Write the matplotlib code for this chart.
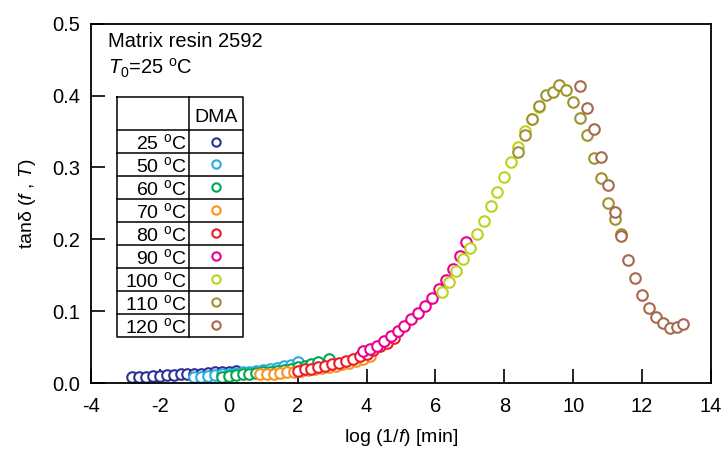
import numpy as np
import matplotlib
matplotlib.use("Agg")
import matplotlib.pyplot as plt

plt.rcParams['font.family'] = ['Liberation Sans', 'DejaVu Sans']
plt.rcParams['mathtext.fontset'] = 'custom'
plt.rcParams['mathtext.rm'] = 'Liberation Sans'
plt.rcParams['mathtext.it'] = 'Liberation Sans:italic'
plt.rcParams['axes.unicode_minus'] = False

# DMA tan delta, shifted to T0 = 25 C
temps = [25, 50, 60, 70, 80, 90, 100, 110, 120]
colors = ['#2E3192', '#29ABE2', '#00A651', '#F7931E', '#ED1C24',
          '#EC008C', '#BDD21E', '#A0912F', '#A8684E']

x_25 = [-2.8, -2.6, -2.4, -2.2, -2.0, -1.8, -1.6, -1.4, -1.2, -1.0, -0.8, -0.6, -0.4, -0.2, 0.0, 0.2]
y_25 = [0.008, 0.009, 0.009, 0.010, 0.010, 0.011, 0.011, 0.012, 0.012, 0.013, 0.013, 0.014, 0.015, 0.015, 0.016, 0.017]

x_50 = [-1.0, -0.8, -0.6, -0.4, -0.2, 0.0, 0.2, 0.4, 0.6, 0.8, 1.0, 1.2, 1.4, 1.6, 1.8, 2.0]
y_50 = [0.008, 0.009, 0.010, 0.011, 0.012, 0.013, 0.014, 0.015, 0.016, 0.017, 0.018, 0.019, 0.021, 0.023, 0.025, 0.029]

x_60 = [-0.2, 0.0, 0.2, 0.4, 0.6, 0.8, 1.0, 1.2, 1.4, 1.6, 1.8, 2.0, 2.2, 2.4, 2.6, 2.9]
y_60 = [0.009, 0.010, 0.011, 0.012, 0.013, 0.014, 0.015, 0.016, 0.017, 0.018, 0.020, 0.022, 0.024, 0.026, 0.029, 0.034]

x_70 = [0.9, 1.1, 1.3, 1.5, 1.7, 1.9, 2.1, 2.3, 2.5, 2.7, 2.9, 3.1, 3.3, 3.5, 3.7, 3.9, 4.1]
y_70 = [0.012, 0.013, 0.013, 0.014, 0.015, 0.016, 0.017, 0.018, 0.019, 0.021, 0.022, 0.024, 0.026, 0.028, 0.031, 0.034, 0.038]

x_80 = [2.0, 2.2, 2.4, 2.6, 2.8, 3.0, 3.2, 3.4, 3.6, 3.8, 4.0, 4.2, 4.4, 4.6, 4.8]
y_80 = [0.017, 0.019, 0.020, 0.022, 0.024, 0.026, 0.028, 0.031, 0.034, 0.037, 0.041, 0.046, 0.051, 0.056, 0.062]

x_90 = [3.9, 4.1, 4.3, 4.5, 4.7, 4.9, 5.1, 5.3, 5.5, 5.7, 5.9, 6.1, 6.3, 6.5, 6.7, 6.9]
y_90 = [0.044, 0.047, 0.052, 0.059, 0.065, 0.072, 0.080, 0.089, 0.097, 0.107, 0.118, 0.131, 0.144, 0.159, 0.177, 0.196]

x_100 = [6.2, 6.4, 6.6, 6.8, 7.0, 7.2, 7.4, 7.6, 7.8, 8.0, 8.2, 8.4, 8.6, 8.8, 9.0]
y_100 = [0.126, 0.141, 0.156, 0.172, 0.188, 0.207, 0.226, 0.246, 0.266, 0.286, 0.307, 0.329, 0.350, 0.368, 0.384]

x_110 = [8.4, 8.6, 8.8, 9.0, 9.2, 9.4, 9.6, 9.8, 10.0, 10.2, 10.4, 10.6, 10.8, 11.0, 11.2, 11.4]
y_110 = [0.322, 0.345, 0.368, 0.386, 0.401, 0.405, 0.414, 0.408, 0.391, 0.369, 0.345, 0.313, 0.285, 0.250, 0.228, 0.207]

x_120 = [10.2, 10.4, 10.6, 10.8, 11.0, 11.2, 11.4, 11.6, 11.8, 12.0, 12.2, 12.4, 12.6, 12.8, 13.0, 13.2]
y_120 = [0.413, 0.383, 0.353, 0.315, 0.275, 0.238, 0.204, 0.171, 0.146, 0.122, 0.105, 0.092, 0.083, 0.077, 0.078, 0.082]

xs = [x_25, x_50, x_60, x_70, x_80, x_90, x_100, x_110, x_120]
ys = [y_25, y_50, y_60, y_70, y_80, y_90, y_100, y_110, y_120]

fig = plt.figure(figsize=(7.26, 4.53), dpi=100)
ax = fig.add_axes([0.1253, 0.1545, 0.854, 0.7932])

mk = dict(marker='o', ls='none', ms=7.6, mfc='white', mew=1.5)
for x, y, c in zip(xs, ys, colors):
    ax.plot(x, y, mec=c, **mk)

ax.set_xlim(-4, 14)
ax.set_ylim(0, 0.5)
ax.set_xticks(np.arange(-4, 15, 2))
ax.set_yticks(np.arange(0, 0.51, 0.1))
ax.yaxis.set_major_formatter(matplotlib.ticker.FormatStrFormatter('%.1f'))
ax.tick_params(direction='in', length=10, width=1.2, labelsize=14.5)
ax.tick_params(axis='x', pad=10)
ax.tick_params(axis='y', pad=8)
for s in ax.spines.values():
    s.set_linewidth(1.3)

ax.set_xlabel('log (1/$f$) [min]', fontsize=14, labelpad=8)
ax.set_ylabel('tanδ ($f$ , $T$)', fontsize=14, labelpad=10)

ax.text(0.027, 0.950, 'Matrix resin 2592', transform=ax.transAxes,
        fontsize=14.5, va='center', ha='left')
ax.text(0.027, 0.877, r'$T_0$=25 $^{\rm o}$C', transform=ax.transAxes,
        fontsize=14.5, va='center', ha='left')

# legend table
tl, tm, tr = 0.0415, 0.1585, 0.2456
t_top, h_bot = 0.797, 0.704
row_h = 0.0639
n = len(temps)
t_bot = h_bot - n * row_h
lk = dict(transform=ax.transAxes, color='black', lw=1.1, clip_on=False)
ax.plot([tl, tr, tr, tl, tl], [t_top, t_top, t_bot, t_bot, t_top], **lk)
ax.plot([tm, tm], [t_top, t_bot], **lk)
for i in range(n):
    yl = h_bot - i * row_h
    ax.plot([tl, tr], [yl, yl], **lk)
ax.text((tm + tr) / 2, 0.738, 'DMA', transform=ax.transAxes,
        fontsize=14, ha='center', va='center')
for i, (t, c) in enumerate(zip(temps, colors)):
    yc = h_bot - (i + 0.5) * row_h
    ax.text(tm - 0.004, yc - 0.004, f'{t} ' + r'$^{\rm o}$C', transform=ax.transAxes,
            fontsize=14, ha='right', va='center')
    ax.plot([(tm + tr) / 2], [yc], transform=ax.transAxes, marker='o', ms=6,
            mfc='white', mec=c, mew=1.5, ls='none')

fig.savefig('out.png', dpi=100)
